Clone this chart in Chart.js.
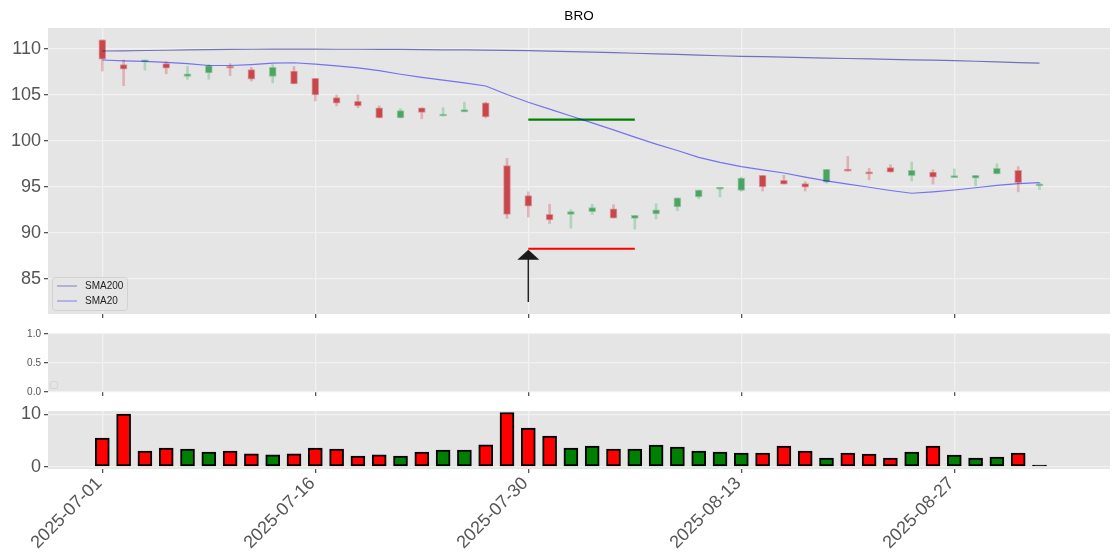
<!DOCTYPE html>
<html>
<head>
<meta charset="utf-8">
<title>BRO</title>
<script src="https://cdn.jsdelivr.net/npm/chart.js@4.4.1/dist/chart.umd.min.js"></script>
<style>
  html, body { margin: 0; padding: 0; background: #fff; }
  #wrap { position: relative; width: 1120px; height: 560px; overflow: hidden; }
  #wrap canvas { position: absolute; left: 0; }
</style>
</head>
<body>
<div id="wrap">
  <canvas id="priceChart" width="1120" height="330" style="top:0px"></canvas>
  <canvas id="emptyChart" width="1120" height="90" style="top:320px"></canvas>
  <canvas id="volumeChart" width="1120" height="160" style="top:400px"></canvas>
</div>
<script>
const ticker = 'BRO';

const dates = ['2025-07-01','2025-07-02','2025-07-03','2025-07-07','2025-07-08','2025-07-09','2025-07-10','2025-07-11','2025-07-14','2025-07-15',
  '2025-07-16','2025-07-17','2025-07-18','2025-07-21','2025-07-22','2025-07-23','2025-07-24','2025-07-25','2025-07-28','2025-07-29',
  '2025-07-30','2025-07-31','2025-08-01','2025-08-04','2025-08-05','2025-08-06','2025-08-07','2025-08-08','2025-08-11','2025-08-12',
  '2025-08-13','2025-08-14','2025-08-15','2025-08-18','2025-08-19','2025-08-20','2025-08-21','2025-08-22','2025-08-25','2025-08-26',
  '2025-08-27','2025-08-28','2025-08-29','2025-09-02','2025-09-03'];

const opens = [111.0,108.3,108.6,108.4,107.0,107.4,108.0,107.75,107.0,107.6,
  106.8,104.7,104.3,103.6,102.5,103.6,102.7,103.15,104.15,97.3,
  94.05,92.0,92.0,92.3,92.6,91.55,92.05,92.8,93.9,94.75,
  94.6,96.25,95.7,95.35,95.5,96.9,96.6,97.1,96.2,96.6,
  96.0,95.95,96.4,96.8,95.1];
const highs = [111.0,108.8,108.8,108.6,108.1,108.3,108.4,108.0,108.3,108.1,
  106.8,105.0,105.0,103.8,103.5,103.6,103.6,104.2,104.2,98.1,
  94.45,93.1,92.5,93.1,93.05,91.9,93.15,93.8,94.65,94.9,
  96.05,96.25,96.25,95.55,96.9,98.3,97.0,97.4,97.7,96.85,
  96.95,96.25,97.5,97.2,95.45];
const lows = [107.6,106.0,107.7,107.3,106.7,106.7,107.1,106.5,106.3,106.2,
  104.35,103.8,103.6,102.5,102.5,102.4,102.7,103.15,102.5,91.55,
  91.7,91.0,90.5,92.0,91.6,90.4,91.5,92.4,93.7,93.9,
  94.5,94.55,95.3,94.55,95.4,96.7,95.76,96.6,95.65,95.3,
  96.0,95.1,96.4,94.45,94.7];
const closes = [108.9,107.8,108.8,107.9,107.3,108.2,107.9,106.7,108.0,106.2,
  105.0,104.1,103.8,102.5,103.3,103.1,102.85,103.4,102.6,92.0,
  92.9,91.4,92.3,92.75,91.6,91.9,92.5,93.8,94.65,94.9,
  95.95,95.0,95.3,94.95,96.9,96.7,96.4,96.6,96.8,96.05,
  96.1,96.25,97.0,95.45,95.25];

const sma200 = [109.78,109.8,109.83,109.86,109.89,109.92,109.95,109.97,109.98,109.98,
  109.98,109.97,109.97,109.96,109.95,109.93,109.91,109.89,109.87,109.85,
  109.82,109.77,109.7,109.65,109.59,109.53,109.47,109.4,109.33,109.26,
  109.2,109.16,109.11,109.05,109.0,108.96,108.91,108.87,108.82,108.78,
  108.73,108.66,108.59,108.52,108.45];
const sma20 = [108.8,108.7,108.65,108.55,108.4,108.2,108.2,108.3,108.45,108.5,
  108.35,108.15,107.95,107.65,107.25,106.9,106.6,106.3,105.97,105.05,
  104.2,103.45,102.7,101.95,101.2,100.4,99.65,98.95,98.2,97.65,
  97.2,96.85,96.5,96.05,95.65,95.3,94.95,94.6,94.3,94.45,
  94.65,94.9,95.15,95.35,95.45];

const volumes = [5.47,10.05,2.99,3.56,3.37,2.8,2.99,2.47,2.28,2.47,
  3.56,3.37,2.03,2.28,2.03,2.8,3.18,3.18,4.19,10.35,
  7.38,5.85,3.56,3.94,3.37,3.37,4.13,3.75,2.99,2.8,
  2.6,2.6,3.94,2.99,1.65,2.6,2.41,1.65,2.8,3.94,
  2.22,1.65,1.84,2.6,0.3];
const volumeDir = ['down','down','down','down','up','up','down','down','up','down',
  'down','down','down','down','up','down','up','up','down','down',
  'down','down','up','up','down','up','up','up','up','up',
  'up','down','down','down','up','down','down','down','up','down',
  'up','up','up','down','flat'];

// trade levels and signal arrow
const targetLevel = 102.32;
const stopLevel = 88.26;
const levelFrom = 20;
const levelTo = 25;
const signalIndex = 20;
const arrowTip = 88.15;
const arrowTail = 82.47;

const priceTicks = [85, 90, 95, 100, 105, 110];
const emptyTicks = [0, 0.5, 1];
const volumeTicks = [0, 10];
const dateTickIndexes = [0, 10, 20, 30, 40];

Chart.defaults.font.family = '"Liberation Sans", Arial, sans-serif';
Chart.defaults.animation = false;

const panelBg = '#e5e5e5';
const gridColor = '#f1f1f1';
const tickColor = '#555555';

const panelBackground = {
  id: 'panelBackground',
  beforeDraw(chart) {
    const { ctx, chartArea: a } = chart;
    ctx.save();
    ctx.fillStyle = panelBg;
    ctx.fillRect(a.left, a.top, a.right - a.left, a.bottom - a.top);
    ctx.restore();
  }
};

function xAxis(height, showLabels) {
  return {
    type: 'linear',
    min: -2.55,
    max: 47.31,
    offset: false,
    afterBuildTicks: s => { s.ticks = dateTickIndexes.map(v => ({ value: v })); },
    afterFit: s => { s.height = height; s.paddingLeft = 0; s.paddingRight = 0; },
    grid: { color: gridColor, lineWidth: 1.3, tickColor: tickColor, tickLength: 4, offset: false },
    border: { display: false },
    ticks: {
      display: showLabels,
      autoSkip: false,
      maxRotation: 45,
      minRotation: 45,
      padding: 0,
      labelOffset: -3,
      color: tickColor,
      font: { size: 18 },
      callback: v => dates[v]
    }
  };
}

function yAxis(min, max, ticks, fontSize, fmt) {
  return {
    min: min,
    max: max,
    afterBuildTicks: s => { s.ticks = ticks.map(v => ({ value: v })); },
    afterFit: s => { s.width = 48; s.paddingTop = 0; s.paddingBottom = 0; },
    grid: { color: gridColor, lineWidth: 1.3, tickColor: tickColor, tickLength: 4 },
    border: { display: false },
    ticks: { color: tickColor, padding: 3, font: { size: fontSize }, callback: fmt }
  };
}

const isUp = i => closes[i] >= opens[i];

const priceExtras = {
  id: 'priceExtras',
  afterDatasetsDraw(chart) {
    const { ctx, scales: { x, y } } = chart;
    const px = x.getPixelForValue(signalIndex);
    const tip = y.getPixelForValue(arrowTip);
    const tail = y.getPixelForValue(arrowTail);
    ctx.save();
    ctx.strokeStyle = '#222';
    ctx.lineWidth = 1.5;
    ctx.beginPath();
    ctx.moveTo(px, tail);
    ctx.lineTo(px, tip + 9);
    ctx.stroke();
    ctx.fillStyle = '#1a1a1a';
    ctx.beginPath();
    ctx.moveTo(px, tip);
    ctx.lineTo(px - 11, tip + 10);
    ctx.lineTo(px + 11, tip + 10);
    ctx.closePath();
    ctx.fill();
    ctx.restore();
  },
  afterDraw(chart) {
    const { ctx, chartArea: a } = chart;
    ctx.save();
    // title
    ctx.fillStyle = '#000';
    ctx.font = '13.5px "Liberation Sans", Arial, sans-serif';
    ctx.textAlign = 'center';
    ctx.textBaseline = 'middle';
    ctx.fillText(ticker, (a.left + a.right) / 2, 16);

    // legend
    const bx = a.left + 4, by = a.bottom - 37, bw = 75, bh = 33;
    ctx.fillStyle = 'rgba(229,229,229,0.8)';
    ctx.strokeStyle = '#d2d2d2';
    ctx.lineWidth = 1;
    ctx.beginPath();
    ctx.roundRect(bx + 0.5, by + 0.5, bw, bh, 3);
    ctx.fill();
    ctx.stroke();
    const items = [
      { label: 'SMA200', color: 'rgba(0,0,139,0.3)' },
      { label: 'SMA20', color: 'rgba(0,0,255,0.3)' }
    ];
    ctx.font = '10px "Liberation Sans", Arial, sans-serif';
    ctx.textAlign = 'left';
    items.forEach((it, k) => {
      const ly = by + 9 + k * 15;
      ctx.strokeStyle = it.color;
      ctx.lineWidth = 1.5;
      ctx.beginPath();
      ctx.moveTo(bx + 5, ly);
      ctx.lineTo(bx + 25, ly);
      ctx.stroke();
      ctx.fillStyle = '#222';
      ctx.fillText(it.label, bx + 33, ly + 0.5);
    });
    ctx.restore();
  }
};

new Chart(document.getElementById('priceChart'), {
  type: 'bar',
  data: {
    datasets: [
      {
        type: 'line', label: 'SMA200', order: 0,
        data: sma200.map((v, i) => ({ x: i, y: v })),
        borderColor: 'rgba(0,0,139,0.5)', borderWidth: 1.2, pointRadius: 0, tension: 0
      },
      {
        type: 'line', label: 'SMA20', order: 0,
        data: sma20.map((v, i) => ({ x: i, y: v })),
        borderColor: 'rgba(0,0,255,0.5)', borderWidth: 1.2, pointRadius: 0, tension: 0
      },
      {
        type: 'line', label: 'Target', order: 0,
        data: [{ x: levelFrom, y: targetLevel }, { x: levelTo, y: targetLevel }],
        borderColor: '#008000', borderWidth: 2.2, pointRadius: 0
      },
      {
        type: 'line', label: 'Stop', order: 0,
        data: [{ x: levelFrom, y: stopLevel }, { x: levelTo, y: stopLevel }],
        borderColor: '#ff0000', borderWidth: 2.2, pointRadius: 0
      },
      {
        label: 'Body', order: 1, grouped: false,
        data: opens.map((o, i) => ({ x: i, y: [o, closes[i]] })),
        backgroundColor: c => isUp(c.dataIndex) ? '#4aa462' : '#c9464d',
        borderColor: c => isUp(c.dataIndex) ? 'rgba(74,164,98,0.45)' : 'rgba(201,70,77,0.45)',
        borderWidth: 1, borderSkipped: false, barThickness: 7, minBarLength: 2
      },
      {
        label: 'Wick', order: 2, grouped: false,
        data: lows.map((l, i) => ({ x: i, y: [l, highs[i]] })),
        backgroundColor: c => isUp(c.dataIndex) ? 'rgba(60,170,90,0.3)' : 'rgba(204,60,70,0.3)',
        borderWidth: 0, barThickness: 2
      }
    ]
  },
  options: {
    responsive: false,
    layout: { padding: { top: 28, right: 10, left: 0, bottom: 0 } },
    plugins: { legend: { display: false }, tooltip: { enabled: false } },
    scales: {
      x: xAxis(16, false),
      y: yAxis(81.16, 112.28, priceTicks, 18, v => String(v))
    }
  },
  plugins: [panelBackground, priceExtras]
});

const emptyLegend = {
  id: 'emptyLegend',
  afterDraw(chart) {
    const { ctx, chartArea: a } = chart;
    ctx.save();
    ctx.fillStyle = 'rgba(229,229,229,0.8)';
    ctx.strokeStyle = '#d4d4d4';
    ctx.lineWidth = 1;
    ctx.beginPath();
    ctx.roundRect(a.left + 2.5, a.bottom - 10.5, 7, 7, 2);
    ctx.fill();
    ctx.stroke();
    ctx.restore();
  }
};

new Chart(document.getElementById('emptyChart'), {
  type: 'bar',
  data: { datasets: [{ data: [] }] },
  options: {
    responsive: false,
    layout: { padding: { top: 14, right: 10, left: 0, bottom: 0 } },
    plugins: { legend: { display: false }, tooltip: { enabled: false } },
    scales: {
      x: xAxis(18, false),
      y: yAxis(0, 1, emptyTicks, 10, v => v.toFixed(1))
    }
  },
  plugins: [panelBackground, emptyLegend]
});

const volumeColor = { up: '#008000', down: '#ff0000', flat: '#000000' };

new Chart(document.getElementById('volumeChart'), {
  type: 'bar',
  data: {
    datasets: [{
      label: 'Volume',
      grouped: false,
      data: volumes.map((v, i) => ({ x: i, y: v })),
      backgroundColor: volumeDir.map(d => volumeColor[d]),
      borderColor: '#000',
      borderWidth: 2,
      borderSkipped: false,
      barThickness: 14
    }]
  },
  options: {
    responsive: false,
    layout: { padding: { top: 11, right: 10, left: 0, bottom: 0 } },
    plugins: { legend: { display: false }, tooltip: { enabled: false } },
    scales: {
      x: xAxis(91, true),
      y: yAxis(-0.44, 10.63, volumeTicks, 18, v => String(v))
    }
  },
  plugins: [panelBackground]
});
</script>
</body>
</html>
